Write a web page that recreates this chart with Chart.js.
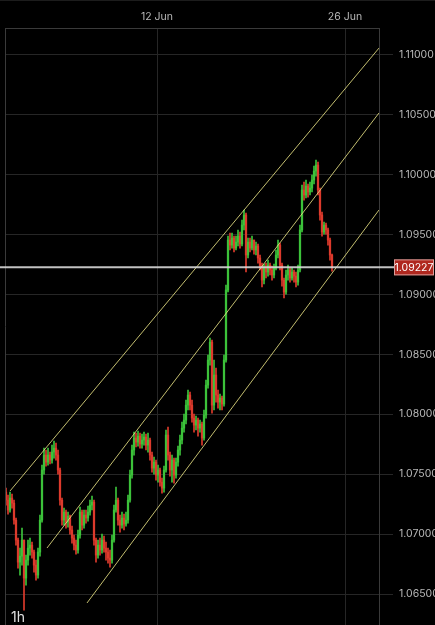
<!DOCTYPE html>
<html>
<head>
<meta charset="utf-8">
<script src="https://cdn.jsdelivr.net/npm/chart.js@4.4.1/dist/chart.umd.min.js"></script>
<style>
  html, body { margin: 0; padding: 0; background: #000; }
  #wrap { width: 435px; height: 625px; position: relative; }
</style>
</head>
<body>
<div id="wrap"><canvas id="chart"></canvas></div>
<script>
// EURUSD (one candle every ~2.5 h)
const firstOpen = 1.07351;
const closes = [
  1.07284, 1.07201, 1.07301, 1.07259, 1.07117, 1.06950, 1.06766, 1.06816, 1.06950, 1.06633,
  1.06783, 1.06883, 1.06908, 1.06850, 1.06741, 1.06658, 1.06850, 1.07117, 1.07535, 1.07660,
  1.07601, 1.07660, 1.07618, 1.07685, 1.07718, 1.07660, 1.07535, 1.07284, 1.07117, 1.07184,
  1.07100, 1.07150, 1.07034, 1.06967, 1.06908, 1.06867, 1.06992, 1.07184, 1.07075, 1.07159,
  1.07134, 1.07184, 1.07242, 1.07267, 1.06950, 1.06825, 1.06908, 1.06867, 1.06950, 1.06883,
  1.06850, 1.06800, 1.06783, 1.06950, 1.07201, 1.07284, 1.07117, 1.07075, 1.07134, 1.07084,
  1.07117, 1.07284, 1.07493, 1.07702, 1.07802, 1.07768, 1.07818, 1.07752, 1.07785, 1.07810,
  1.07743, 1.07785, 1.07660, 1.07551, 1.07601, 1.07493, 1.07535, 1.07434, 1.07384, 1.07535,
  1.07827, 1.07660, 1.07535, 1.07618, 1.07493, 1.07601, 1.07702, 1.07785, 1.07885, 1.07952,
  1.08077, 1.08161, 1.08077, 1.07969, 1.07910, 1.07952, 1.07885, 1.07919, 1.07802, 1.07994,
  1.08244, 1.08453, 1.08603, 1.08077, 1.08328, 1.08161, 1.08102, 1.08136, 1.08086, 1.08453,
  1.09038, 1.09455, 1.09413, 1.09472, 1.09388, 1.09438, 1.09488, 1.09422, 1.09580, 1.09664,
  1.09330, 1.09438, 1.09388, 1.09455, 1.09372, 1.09405, 1.09305, 1.09238, 1.09121, 1.09221,
  1.09188, 1.09246, 1.09205, 1.09163, 1.09221, 1.09330, 1.09413, 1.09246, 1.09121, 1.09021,
  1.09163, 1.09205, 1.09138, 1.09188, 1.09154, 1.09104, 1.09205, 1.09539, 1.09873, 1.09831,
  1.09906, 1.09856, 1.09889, 1.09956, 1.10031, 1.10081, 1.09873, 1.09664, 1.09522, 1.09580,
  1.09539, 1.09455, 1.09330, 1.09227
];
const highs = [
  1.07384, 1.07326, 1.07351, 1.07334, 1.07284, 1.07134, 1.06967, 1.06883, 1.07050, 1.06950,
  1.06825, 1.06950, 1.06967, 1.06933, 1.06867, 1.06783, 1.06883, 1.07159, 1.07576, 1.07718,
  1.07702, 1.07718, 1.07685, 1.07743, 1.07777, 1.07760, 1.07702, 1.07551, 1.07301, 1.07217,
  1.07201, 1.07184, 1.07159, 1.07067, 1.06992, 1.06950, 1.07034, 1.07226, 1.07201, 1.07201,
  1.07201, 1.07234, 1.07284, 1.07317, 1.07284, 1.06967, 1.06950, 1.06967, 1.07000, 1.06983,
  1.06933, 1.06883, 1.06867, 1.06992, 1.07242, 1.07393, 1.07301, 1.07159, 1.07184, 1.07167,
  1.07184, 1.07326, 1.07535, 1.07743, 1.07852, 1.07843, 1.07860, 1.07843, 1.07835, 1.07852,
  1.07835, 1.07843, 1.07802, 1.07685, 1.07643, 1.07618, 1.07576, 1.07551, 1.07468, 1.07568,
  1.07869, 1.07894, 1.07685, 1.07660, 1.07635, 1.07635, 1.07735, 1.07827, 1.07935, 1.08002,
  1.08119, 1.08203, 1.08186, 1.08119, 1.08002, 1.07985, 1.07969, 1.07952, 1.07935, 1.08036,
  1.08286, 1.08495, 1.08637, 1.08620, 1.08453, 1.08386, 1.08203, 1.08169, 1.08152, 1.08495,
  1.09079, 1.09488, 1.09513, 1.09513, 1.09488, 1.09488, 1.09539, 1.09522, 1.09622, 1.09706,
  1.09680, 1.09472, 1.09472, 1.09488, 1.09455, 1.09438, 1.09422, 1.09330, 1.09263, 1.09255,
  1.09263, 1.09288, 1.09263, 1.09238, 1.09255, 1.09372, 1.09455, 1.09430, 1.09263, 1.09138,
  1.09205, 1.09246, 1.09221, 1.09221, 1.09205, 1.09188, 1.09246, 1.09580, 1.09914, 1.09939,
  1.09956, 1.09923, 1.09939, 1.09998, 1.10073, 1.10123, 1.10106, 1.09889, 1.09689, 1.09605,
  1.09597, 1.09555, 1.09472, 1.09338
];
const lows = [
  1.07242, 1.07167, 1.07184, 1.07217, 1.07084, 1.06908, 1.06716, 1.06658, 1.06741, 1.06366,
  1.06574, 1.06741, 1.06825, 1.06800, 1.06683, 1.06616, 1.06633, 1.06816, 1.07100, 1.07501,
  1.07568, 1.07576, 1.07585, 1.07593, 1.07635, 1.07618, 1.07501, 1.07242, 1.07075, 1.07075,
  1.07050, 1.07059, 1.07000, 1.06925, 1.06867, 1.06833, 1.06841, 1.06967, 1.07034, 1.07050,
  1.07092, 1.07109, 1.07159, 1.07201, 1.06908, 1.06766, 1.06800, 1.06825, 1.06841, 1.06850,
  1.06783, 1.06758, 1.06725, 1.06758, 1.06933, 1.07184, 1.07075, 1.07017, 1.07050, 1.07034,
  1.07067, 1.07092, 1.07267, 1.07468, 1.07660, 1.07727, 1.07735, 1.07718, 1.07718, 1.07743,
  1.07702, 1.07685, 1.07618, 1.07518, 1.07501, 1.07451, 1.07434, 1.07401, 1.07342, 1.07351,
  1.07518, 1.07618, 1.07484, 1.07434, 1.07426, 1.07468, 1.07568, 1.07660, 1.07752, 1.07852,
  1.07919, 1.08036, 1.08036, 1.07935, 1.07852, 1.07869, 1.07818, 1.07852, 1.07743, 1.07785,
  1.07969, 1.08219, 1.08411, 1.08010, 1.08036, 1.08102, 1.08052, 1.08036, 1.08036, 1.08069,
  1.08436, 1.09021, 1.09372, 1.09388, 1.09355, 1.09372, 1.09405, 1.09388, 1.09405, 1.09539,
  1.09188, 1.09305, 1.09355, 1.09372, 1.09338, 1.09330, 1.09263, 1.09205, 1.09063, 1.09088,
  1.09138, 1.09154, 1.09163, 1.09121, 1.09138, 1.09205, 1.09305, 1.09205, 1.09071, 1.08971,
  1.09004, 1.09121, 1.09104, 1.09121, 1.09104, 1.09063, 1.09079, 1.09188, 1.09522, 1.09789,
  1.09806, 1.09814, 1.09831, 1.09856, 1.09923, 1.09989, 1.09831, 1.09622, 1.09488, 1.09505,
  1.09505, 1.09413, 1.09288, 1.09196
];
const lastPrice = 1.09227;
const timeframe = '1h';

// axis ticks
const dateTickPos = [75.5, 169.5];
const dateTickLabels = ['12 Jun', '26 Jun'];
const priceTicks = [1.065, 1.070, 1.075, 1.080, 1.085, 1.090, 1.095, 1.100, 1.105, 1.110];

// channel lines: [start, end] in candle index / price
const channelX = [[2, 186.5], [20.5, 186.5], [40.5, 186.5]];
const channelY = [[1.07360, 1.11058], [1.06884, 1.10516], [1.06425, 1.09706]];

const upColor = '#3cc23a';
const downColor = '#dd3a2c';
const gridColor = '#262626';
const frameColor = '#3a3a3a';
const labelFont = { family: 'Inter', size: 10.5 };

const opens = closes.map((c, i) => i ? closes[i - 1] : firstOpen);
const candleColors = closes.map((c, i) => c >= opens[i] ? upColor : downColor);

const wicks = closes.map((c, i) => ({ x: i, y: [lows[i], highs[i]] }));
const bodies = closes.map((c, i) => ({ x: i, y: [Math.min(opens[i], c), Math.max(opens[i], c)] }));

const channelSets = channelX.map((xs, k) => ({
    type: 'line',
    data: [{ x: xs[0], y: channelY[k][0] }, { x: xs[1], y: channelY[k][1] }],
    borderColor: 'rgba(228, 222, 130, 0.85)',
    borderWidth: 1,
    pointRadius: 0,
    order: 0
}));

const chartBg = {
    id: 'chartBg',
    beforeDraw(chart) {
        const c = chart.ctx;
        c.save();
        c.fillStyle = '#000';
        c.fillRect(0, 0, chart.width, chart.height);
        c.restore();
    },
    afterDraw(chart) {
        const c = chart.ctx;
        const a = chart.chartArea;
        c.save();
        // left frame line
        c.strokeStyle = frameColor;
        c.lineWidth = 1;
        c.beginPath();
        c.moveTo(a.left + 0.5, a.top);
        c.lineTo(a.left + 0.5, a.bottom);
        c.stroke();
        c.strokeStyle = '#1c1c1c';
        c.beginPath();
        c.moveTo(0, 0.5);
        c.lineTo(chart.width, 0.5);
        c.stroke();

        // current price line and tag
        const y = chart.scales.y.getPixelForValue(lastPrice);
        c.strokeStyle = 'rgba(215, 215, 215, 0.9)';
        c.lineWidth = 2;
        c.beginPath();
        c.moveTo(0, y);
        c.lineTo(395, y);
        c.stroke();
        c.fillStyle = '#b0281f';
        c.fillRect(394, y - 8, 40, 16);
        c.strokeStyle = 'rgba(255, 255, 255, 0.55)';
        c.lineWidth = 1;
        c.strokeRect(394.5, y - 7.5, 39, 15);
        c.fillStyle = '#fff';
        c.font = '10.5px Inter';
        c.textAlign = 'center';
        c.textBaseline = 'middle';
        c.fillText(lastPrice.toFixed(5), 414, y + 0.5);

        // timeframe
        c.fillStyle = '#e0e0e0';
        c.font = '14px Inter';
        c.textAlign = 'left';
        c.textBaseline = 'alphabetic';
        c.fillText(timeframe, 11, 622);
        c.restore();
    }
};

new Chart(document.getElementById('chart'), {
    data: {
        datasets: [
            ...channelSets,
            {
                type: 'bar',
                data: wicks,
                backgroundColor: candleColors,
                barThickness: 1,
                grouped: false,
                order: 2
            },
            {
                type: 'bar',
                data: bodies,
                backgroundColor: candleColors,
                barThickness: 1.6,
                minBarLength: 1,
                grouped: false,
                order: 1
            }
        ]
    },
    options: {
        responsive: true,
        maintainAspectRatio: false,
        animation: false,
        layout: { padding: { left: 5, top: 0, right: 0, bottom: 0 } },
        plugins: { legend: { display: false }, tooltip: { enabled: false } },
        scales: {
            x: {
                type: 'linear',
                position: 'top',
                min: -0.5,
                max: 186.5,
                offset: false,
                afterBuildTicks: s => { s.ticks = dateTickPos.map(v => ({ value: v })); },
                afterFit: s => { s.height = 28; s.paddingLeft = 0; s.paddingRight = 0; },
                ticks: {
                    callback: v => dateTickLabels[dateTickPos.indexOf(v)],
                    color: '#b8b8b8',
                    font: labelFont,
                    padding: 5,
                    maxRotation: 0,
                    autoSkip: false
                },
                grid: { color: gridColor, drawTicks: false, offset: false },
                border: { color: frameColor }
            },
            y: {
                position: 'right',
                min: 1.062412,
                max: 1.112254,
                afterBuildTicks: s => { s.ticks = priceTicks.map(v => ({ value: v })); },
                afterFit: s => { s.width = 56; s.paddingTop = 0; s.paddingBottom = 0; },
                ticks: {
                    callback: v => v.toFixed(5),
                    color: '#b8b8b8',
                    font: labelFont,
                    padding: 6
                },
                grid: { color: gridColor, tickLength: 14 },
                border: { color: frameColor }
            }
        }
    },
    plugins: [chartBg]
});
</script>
</body>
</html>
